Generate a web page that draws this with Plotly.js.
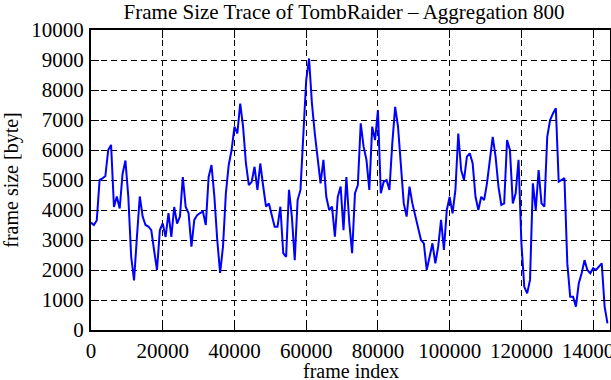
<!DOCTYPE html>
<html>
<head>
<meta charset="utf-8">
<script src="https://cdn.plot.ly/plotly-3.0.1.min.js"></script>
<style>html,body{margin:0;padding:0;background:#fff;}#chart{width:611px;height:380px;}</style>
</head>
<body>
<div id="chart"></div>
<script>
// Aggregation step (frames per sample)
const aggregation = 800;
// Aggregated frame sizes [byte]
const frameSizes = [
  3580,3500,3650,5000,5050,5130,6000,6170,4100,4450,
  4050,5200,5650,4450,2450,1650,3100,4450,3780,3500,
  3450,3330,2650,2000,3330,3550,3100,3900,3100,4100,
  3550,3780,5100,4100,3900,2780,3670,3830,3900,3950,
  3500,5100,5500,4450,3000,1900,2780,4550,5500,6000,
  6780,6550,7550,6780,5550,4830,4940,5440,4670,5550,
  4800,4110,4220,3780,3440,3440,4110,2560,2440,4670,
  3780,2330,4330,4670,6330,8330,9050,7550,6550,5670,
  4890,5670,4440,4000,4110,3110,4440,4780,3330,5100,
  3600,2560,4560,4830,6890,6110,5670,4670,6780,6330,
  7330,4560,4940,5000,4670,6220,7440,6780,5560,4220,
  3780,4780,4220,3780,3440,3000,2890,2000,2440,2890,
  2220,2780,3670,2670,4000,4440,3890,4670,6550,5330,
  5000,5780,5890,5560,4440,4000,4440,4330,4890,5670,
  6440,5780,4780,4170,4220,6330,6000,4220,4560,5670,
  2890,1440,1220,1670,4890,4000,5330,4220,4110,6440,
  7000,7220,7390,4940,5000,5060,2220,1110,1110,780,
  1560,1890,2330,2000,1890,2060,2000,2110,2220,780,
  220
];
const xTickVals = [0,20000,40000,60000,80000,100000,120000,140000];
const xTickText = ["0","20000","40000","60000","80000","100000","120000","140000"];
const yTickVals = [0,1000,2000,3000,4000,5000,6000,7000,8000,9000,10000];
const yTickText = ["0","1000","2000","3000","4000","5000","6000","7000","8000","9000","10000"];
const titleText = "Frame Size Trace of TombRaider \u2013 Aggregation 800";
const xTitle = "frame index";
const yTitle = "frame size [byte]";

const family = "'Liberation Serif', 'Times New Roman', serif";
const tickFont = {family: family, color: "#000", size: 21};
const titleFont = {family: family, color: "#000", size: 21};
const axisTitleFont = {family: family, color: "#000", size: 20};

const trace = {
  type: "scatter",
  mode: "lines",
  x0: 0,
  dx: aggregation,
  y: frameSizes,
  line: {color: "#0000ff", width: 2},
  hoverinfo: "x+y"
};

const axisCommon = {
  showline: true,
  linecolor: "#000",
  linewidth: 2,
  mirror: "ticks",
  ticks: "inside",
  ticklen: 8,
  tickwidth: 1,
  tickcolor: "#000",
  showgrid: true,
  gridcolor: "#000",
  gridwidth: 1,
  griddash: "6px,4px",
  zeroline: false,
  tickfont: tickFont,
  tickmode: "array",
  ticklabeloverflow: "allow"
};

const layout = {
  width: 611,
  height: 380,
  margin: {l: 91, r: 1, t: 30, b: 50, pad: 0},
  paper_bgcolor: "#fff",
  plot_bgcolor: "#fff",
  font: tickFont,
  showlegend: false,
  title: {text: titleText, font: titleFont, x: 344/611, xanchor: "center", xref: "container", y: 1 - 12/380, yanchor: "middle", yref: "container"},
  xaxis: Object.assign({}, axisCommon, {
    range: [0, 144700],
    tickvals: xTickVals,
    ticktext: xTickText,
    ticklabelstandoff: 1,
    title: {text: ""}
  }),
  yaxis: Object.assign({}, axisCommon, {
    range: [0, 10000],
    tickvals: yTickVals,
    ticktext: yTickText,
    ticklabelstandoff: 1,
    title: {text: yTitle, font: axisTitleFont, standoff: 8}
  }),
  annotations: [{
    text: xTitle, font: axisTitleFont, showarrow: false,
    xref: "paper", yref: "paper",
    x: 0.5, xanchor: "center",
    y: -(371 - 330) / 300, yanchor: "middle"
  }]
};

Plotly.newPlot("chart", [trace], layout, {displayModeBar: false, staticPlot: true});
</script>
</body>
</html>
